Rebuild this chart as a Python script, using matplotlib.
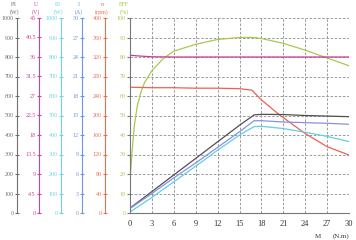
import matplotlib
matplotlib.use("Agg")
import matplotlib.pyplot as plt
import numpy as np

plt.rcParams['font.family'] = ['Liberation Serif', 'DejaVu Serif']

# ---- data ----
torque_ticks = [0, 3, 6, 9, 12, 15, 18, 21, 24, 27, 30]

M_lin = [0, 3, 6, 9, 12, 15, 17, 18, 21, 24, 27, 30]
P1_W = [25, 110, 195, 280, 365, 450, 503, 506, 505, 500, 497, 494]
I_A = [0.7, 3.0, 5.4, 7.7, 10.1, 12.5, 14.2, 14.2, 14.0, 13.9, 13.8, 13.65]
P2_W = [5, 80, 160, 240, 322, 400, 443, 445, 433, 414, 393, 366]

M_U = [0, 1.5, 3, 6, 12, 18, 24, 30]
U_V = [36.4, 36.2, 36.05, 36.0, 36.0, 36.0, 36.0, 36.0]

M_n = [0, 3, 6, 9, 12, 15, 16.7, 18, 20.5, 24, 27, 30]
n_rpm = [258, 257, 257, 256, 256, 255, 252, 232, 201, 163, 136, 119]

M_eff = [0, 0.3, 0.6, 1.0, 1.5, 2, 3, 4.5, 6, 9, 12, 15, 17, 18, 21, 24, 27, 30]
EFF_pct = [17, 32, 45, 55, 62, 67, 73, 79, 83, 86.5, 89, 90, 90, 89.5, 87, 83.5, 79.5, 75.5]

# axis definitions: (title, unit, max, step, colour, x-pixel, tick format)
axes_def = [
    ("P1", "(W)", 1000, 100, "#707070", 17, "{:g}"),
    ("U", "(V)", 45, 4.5, "#d040a0", 39, "{:g}"),
    ("P2", "(W)", 1000, 100, "#70d4e4", 61, "{:g}"),
    ("I", "(A)", 30, 3, "#6a98d8", 82, "{:g}"),
    ("n", "(rpm)", 400, 40, "#ec7050", 105, "{:g}"),
]
eff_color = "#a8c850"

W, H = 356, 240
fig = plt.figure(figsize=(W / 100, H / 100), dpi=100)
bot = 1 - 213 / H
top = 1 - 18 / H
hgt = top - bot
left = 130 / W
right = 349 / W

ax = fig.add_axes([left, bot, right - left, hgt])
ax.set_xlim(0, 30)
ax.set_ylim(0, 100)
ax.set_xticks(torque_ticks)
ax.set_yticks(np.arange(0, 101, 10))
ax.grid(True, ls=(0, (3, 2)), color="#8a8a8a", lw=0.6)
for s in ["top", "right"]:
    ax.spines[s].set_visible(False)
for s in ["left", "bottom"]:
    ax.spines[s].set_color("#777777")
    ax.spines[s].set_linewidth(0.8)
ax.tick_params(axis="x", labelsize=6, length=0, pad=5, colors="#333333")
ax.tick_params(axis="y", labelsize=4.3, length=2, pad=1, colors="#777777", labelcolor=eff_color)

# curves (scaled to their own axes)
ax.plot(M_eff, EFF_pct, color=eff_color, lw=0.9)
ax.plot(M_U, np.array(U_V) / 45 * 100, color="#d03898", lw=0.9)
ax.plot(M_n, np.array(n_rpm) / 400 * 100, color="#f06050", lw=0.9)
ax.plot(M_lin, np.array(P1_W) / 1000 * 100, color="#505050", lw=0.9)
ax.plot(M_lin, np.array(I_A) / 30 * 100, color="#8a90e4", lw=0.9)
ax.plot(M_lin, np.array(P2_W) / 1000 * 100, color="#60d0e0", lw=0.9)

fig.text(124 / W, 1 - 5 / H, "EFF", fontsize=4.3, color=eff_color, ha="center", va="center")
fig.text(124 / W, 1 - 12 / H, "(%)", fontsize=4.3, color=eff_color, ha="center", va="center")

for title, unit, vmax, step, col, xp, fmt in axes_def:
    a = fig.add_axes([xp / W, bot, 0.0001, hgt])
    a.patch.set_visible(False)
    for s in ["top", "right", "bottom"]:
        a.spines[s].set_visible(False)
    a.spines["left"].set_color(col)
    a.spines["left"].set_linewidth(0.8)
    a.set_xticks([])
    a.set_ylim(0, vmax)
    ticks = [round(i * step, 2) for i in range(11)]
    a.set_yticks(ticks)
    a.set_yticklabels([fmt.format(t) for t in ticks])
    a.tick_params(axis="y", labelsize=4.3, length=2.5, direction="inout", pad=1,
                  colors=col, labelcolor=col)
    fig.text((xp - 3) / W, 1 - 5 / H, title, fontsize=4.3, color=col, ha="center", va="center")
    fig.text((xp - 3) / W, 1 - 12 / H, unit, fontsize=4.3, color=col, ha="center", va="center")

fig.text(318 / W, 1 - 236 / H, "M", fontsize=5, color="#333333", ha="center", va="center")
fig.text(341 / W, 1 - 236 / H, "(N.m)", fontsize=5, color="#333333", ha="center", va="center")

fig.savefig("out.png", dpi=100)
